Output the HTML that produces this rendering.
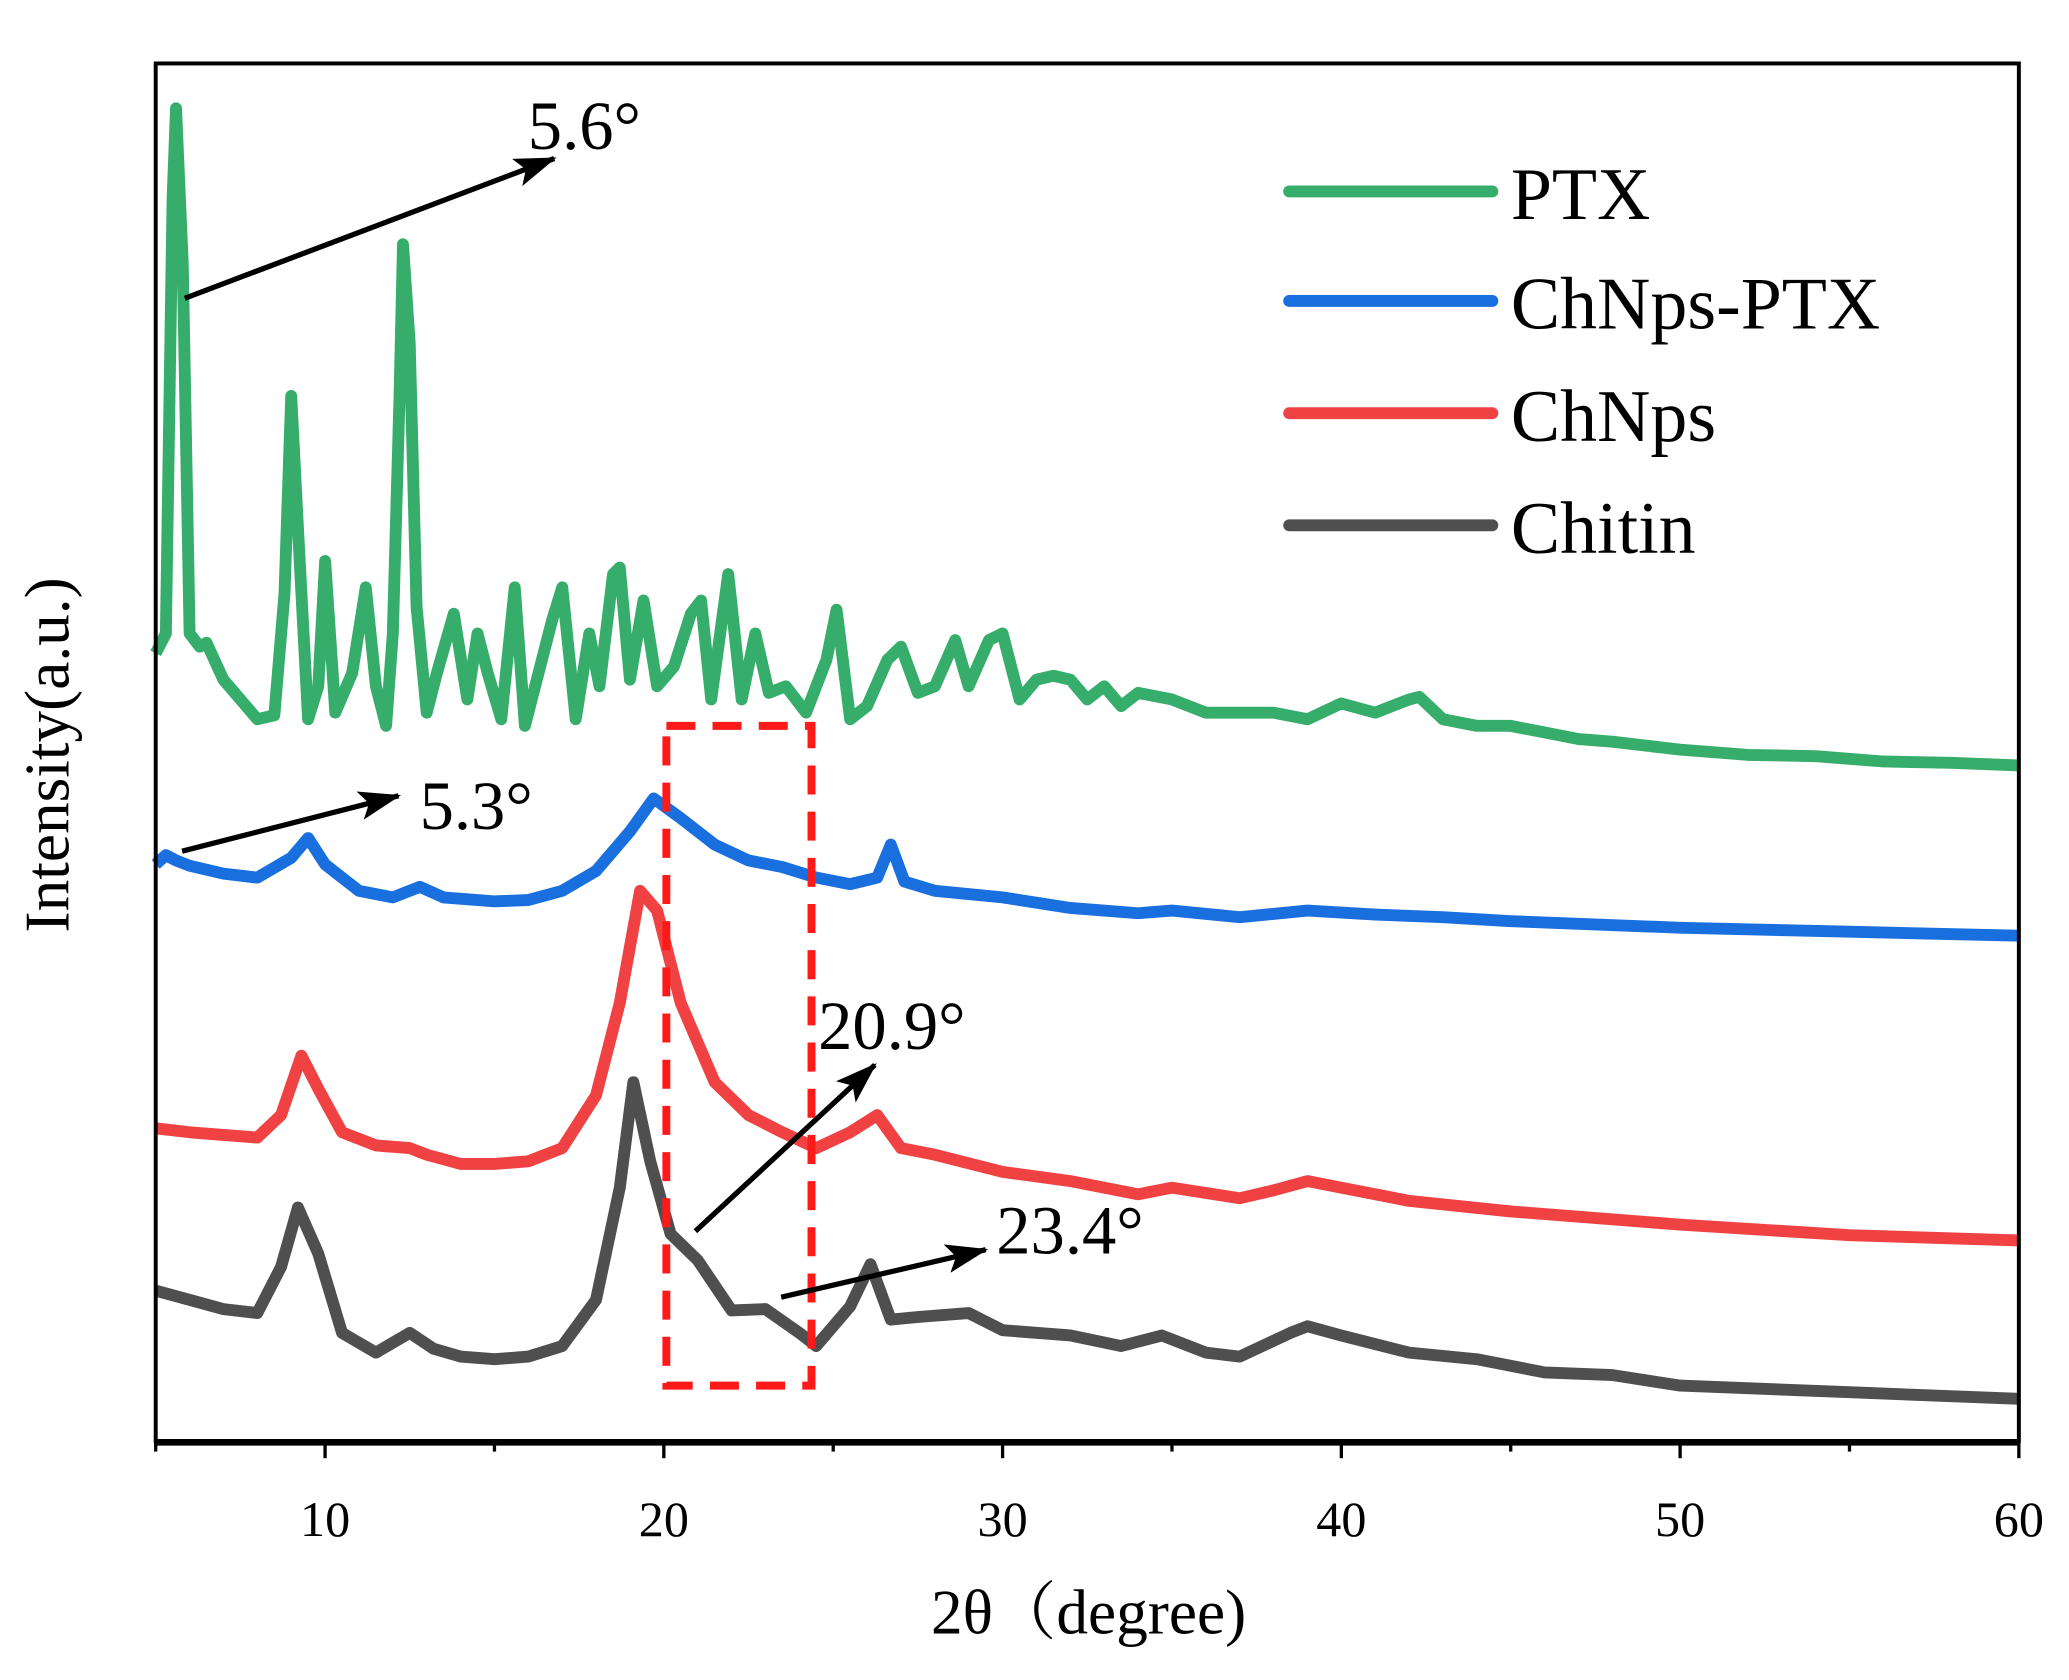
<!DOCTYPE html>
<html><head><meta charset="utf-8"><style>
html,body{margin:0;padding:0;background:#fff;}
svg{display:block;font-family:"Liberation Serif","Noto Serif CJK SC",serif;}
</style></head><body>
<svg id="chart" width="2069" height="1680" viewBox="0 0 1568 1273" xmlns="http://www.w3.org/2000/svg">
<rect width="1568" height="1273" fill="#fff"/>
<g id="series"></g>
<rect x="505" y="550" width="110" height="500" fill="none" stroke="#ff1a1a" stroke-width="6" stroke-dasharray="22,13"/>
<rect x="118" y="48" width="1412" height="1044" fill="none" stroke="#000" stroke-width="3"/>
<line x1="117" y1="1093" x2="1531" y2="1093" stroke="#000" stroke-width="5"/>
<g id="xaxis"></g>
<text x="825" y="1238" font-size="48" text-anchor="middle">2θ（degree)</text>
<text transform="translate(52,572) rotate(-90)" font-size="48" text-anchor="middle">Intensity(a.u.)</text>
<defs><marker id="ah" markerWidth="32" markerHeight="22" refX="30" refY="11" orient="auto" markerUnits="userSpaceOnUse" viewBox="0 0 32 22"><path d="M0,0 L32,11 L0,22 L7,11 z" fill="#000"/></marker></defs>
<g id="annot">
<line x1="140" y1="226" x2="420" y2="120" stroke="#000" stroke-width="4"/>
<text x="400" y="113" font-size="52">5.6°</text>
<line x1="138" y1="645" x2="302" y2="603" stroke="#000" stroke-width="4"/>
<text x="318" y="628" font-size="52">5.3°</text>
<line x1="527" y1="933" x2="663" y2="807" stroke="#000" stroke-width="4"/>
<text x="620" y="795" font-size="52">20.9°</text>
<line x1="592" y1="983" x2="747" y2="947" stroke="#000" stroke-width="4"/>
<text x="755" y="950" font-size="52">23.4°</text>
</g>
<g id="legend"></g>
</svg>
<script>
const ptxX=[5,5.3,5.5,5.6,5.8,6.0,6.3,6.5,7,7.5,8,8.5,8.8,9.0,9.2,9.5,9.8,10.0,10.3,10.8,11.2,11.5,11.8,12.0,12.2,12.3,12.5,12.7,13.0,13.3,13.8,14.2,14.5,14.8,15.2,15.6,15.9,16.3,16.7,17.0,17.4,17.8,18.1,18.5,18.7,19.0,19.4,19.8,20.3,20.8,21.1,21.4,21.9,22.3,22.7,23.1,23.6,24.2,24.8,25.1,25.5,26.0,26.6,27.0,27.5,28.0,28.6,29.0,29.6,30.0,30.5,31,31.5,32,32.5,33,33.5,34,35,36,37,38,39,40,41,42,42.3,43,44,45,46,47,48,50,52,54,56,58,60];
const ptxY=[597,612,942,1010,892,612,602,605,577,562,547,550,642,792,692,547,572,667,552,582,647,572,542,612,792,907,832,632,552,582,627,562,612,582,547,647,542,582,622,647,547,612,572,657,662,577,637,572,587,627,637,562,657,562,612,567,572,552,592,630,547,557,592,602,567,572,607,572,607,612,562,577,580,577,562,572,557,567,562,552,552,552,547,559,552,562,564,547,542,542,537,532,530,524,520,519,515,514,512];
const blueX=[5,5.3,5.6,6,7,8,9,9.5,10,11,12,12.8,13.5,15,16,17,18,19,19.7,20.5,21.5,22.5,23.5,24.5,25.5,26.3,26.7,27.1,28,30,32,34,35,37,39,41,43,45,50,55,60];
const blueY=[437,444,440,436,430,427,442,457,437,417,412,420,412,409,410,417,432,462,487,472,452,440,435,427,422,427,452,424,417,412,404,400,402,397,402,399,397,394,389,386,383];
const redX=[5,6,7,8,8.7,9.3,9.8,10.5,11.5,12.5,13,14,15,16,17,18,18.7,19.3,19.8,20.5,21.5,22.5,23.5,24.5,25.5,26.3,27,28,30,32,34,35,37,38,39,40,42,45,50,55,60];
const redY=[237,234,232,230,247,292,267,234,224,222,217,210,210,212,222,262,332,417,402,332,272,247,234,222,234,247,222,217,204,197,187,192,184,190,197,192,182,174,164,156,152];
const chitinX=[5,6,7,8,8.7,9.2,9.8,10.5,11.5,12.5,13.2,14,15,16,17,18,18.7,19.1,19.6,20.2,21,22,23,24,24.5,25.5,26.1,26.7,27.5,29,30,32,33.5,34.7,36,37,38.5,39,40,42,44,46,48,50,55,60];
const chitinY=[114,107,100,97,132,177,142,82,67,82,70,64,62,64,72,107,192,272,212,157,137,99,100,82,72,102,134,92,94,97,84,80,72,80,67,64,82,87,80,67,62,52,50,42,37,32];
const names=['PTX','ChNps-PTX','ChNps','Chitin'];
const colors=['#37ad6b','#1a6fde','#f04242','#4f4f4f'];
const xTicks=[10,20,30,40,50,60];

const X0=118,X1=1530,Y0=1092,Y1=48;
const xs=v=>X0+(v-5)/(60-5)*(X1-X0);
const ys=v=>Y0-v/1044*(Y0-Y1);
const NS='http://www.w3.org/2000/svg';
const sg=document.getElementById('series');
const data=[[ptxX,ptxY],[blueX,blueY],[redX,redY],[chitinX,chitinY]];
for(let s=3;s>=0;s--){
  const [xx,yy]=data[s];
  const p=document.createElementNS(NS,'path');
  p.setAttribute('d',xx.map((v,i)=>(i?'L':'M')+xs(v).toFixed(1)+','+ys(yy[i]).toFixed(1)).join(''));
  p.setAttribute('fill','none');p.setAttribute('stroke',colors[s]);
  p.setAttribute('stroke-width','9');p.setAttribute('stroke-linejoin','round');
  
  
  sg.appendChild(p);
}
const xa=document.getElementById('xaxis');
for(let v=5;v<=60;v+=5){
  const major=v%10===0;
  const l=document.createElementNS(NS,'line');
  l.setAttribute('x1',xs(v));l.setAttribute('x2',xs(v));
  l.setAttribute('y1',Y0);l.setAttribute('y2',Y0+(major?13:8));
  l.setAttribute('stroke','#000');l.setAttribute('stroke-width','2.5');
  
  
  xa.appendChild(l);
}
xTicks.forEach(v=>{
  const t=document.createElementNS(NS,'text');
  t.setAttribute('x',xs(v));t.setAttribute('y',1164);t.setAttribute('font-size','38');
  t.setAttribute('text-anchor','middle');t.textContent=v;
  
  
  xa.appendChild(t);
});
const lg=document.getElementById('legend');
[145,228,313,398].forEach((y,i)=>{
  const l=document.createElementNS(NS,'line');
  l.setAttribute('x1',977);l.setAttribute('x2',1131);l.setAttribute('y1',y);l.setAttribute('y2',y);
  l.setAttribute('stroke',colors[i]);l.setAttribute('stroke-width','9');l.setAttribute('stroke-linecap','round');
  
  
  lg.appendChild(l);
  const t=document.createElementNS(NS,'text');
  t.setAttribute('x',1145);t.setAttribute('y',y+21);t.setAttribute('font-size','56');
  t.textContent=names[i];
  
  
  lg.appendChild(t);
});
document.querySelectorAll('#annot line').forEach(l=>l.setAttribute('marker-end','url(#ah)'));
</script>
</body></html>
